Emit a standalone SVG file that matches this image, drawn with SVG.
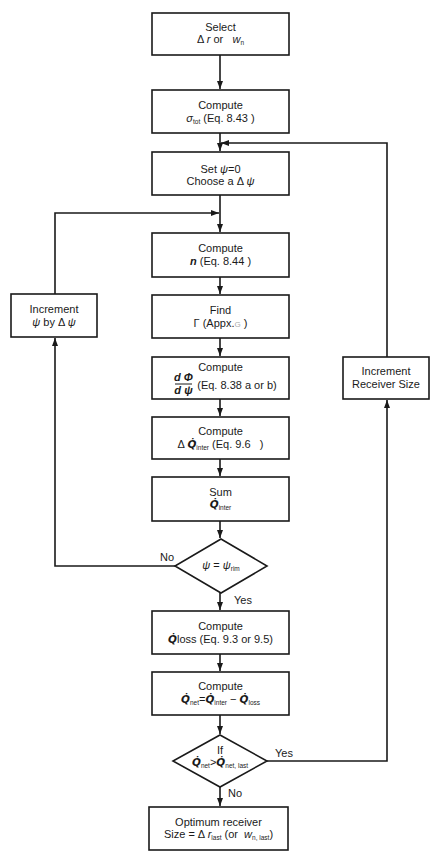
<svg xmlns="http://www.w3.org/2000/svg" width="439" height="863" viewBox="0 0 439 863">
<style>
.b{fill:#fff;stroke:#1a1a1a;stroke-width:1.6}
.t{font-family:"Liberation Sans",Arial,sans-serif;font-size:11px;fill:#1a1a1a;text-anchor:middle}
.s{font-size:6.5px}
.i{font-style:italic}
.q{font-family:"DejaVu Sans",sans-serif;font-style:italic;font-weight:bold;font-size:10.5px}
.c{fill:none;stroke:#1a1a1a;stroke-width:1.6}
</style>
<defs>
<marker id="ar" markerUnits="userSpaceOnUse" markerWidth="8" markerHeight="6" refX="8" refY="3" orient="auto">
<path d="M0,0 L8,3 L0,6 z" fill="#1a1a1a"/>
</marker>
</defs>
<rect width="439" height="863" fill="#fff"/>
<g id="connectors">
<path class="c" d="M220,55 V89" marker-end="url(#ar)"/>
<path class="c" d="M220,133 V151" marker-end="url(#ar)"/>
<path class="c" d="M220,195 V232" marker-end="url(#ar)"/>
<path class="c" d="M220,277 V294" marker-end="url(#ar)"/>
<path class="c" d="M220,338 V356" marker-end="url(#ar)"/>
<path class="c" d="M220,399 V416" marker-end="url(#ar)"/>
<path class="c" d="M220,459 V476" marker-end="url(#ar)"/>
<path class="c" d="M220,521 V538" marker-end="url(#ar)"/>
<path class="c" d="M220,593 V610" marker-end="url(#ar)"/>
<path class="c" d="M220,654 V671" marker-end="url(#ar)"/>
<path class="c" d="M220,715 V734" marker-end="url(#ar)"/>
<path class="c" d="M220,787 V806" marker-end="url(#ar)"/>
<path class="c" d="M175,566 H55 V338" marker-end="url(#ar)"/>
<path class="c" d="M55,294 V213 H219" marker-end="url(#ar)"/>
<path class="c" d="M267,761 H387 V400" marker-end="url(#ar)"/>
<path class="c" d="M387,357 V143 H221" marker-end="url(#ar)"/>
<text class="t" x="167" y="561">No</text>
<text class="t" x="243" y="604">Yes</text>
<text class="t" x="284" y="757">Yes</text>
<text class="t" x="235" y="797">No</text>
</g>
<g id="select">
<rect class="b" x="152" y="13" width="137" height="42"/>
<text class="t" x="220.5" y="31">Select</text>
<text class="t" x="220.5" y="43">Δ <tspan class="i">r</tspan> or&#160;&#160;&#160;<tspan class="i">w</tspan><tspan class="s" dy="2">n</tspan></text>
</g>
<g id="sigma">
<rect class="b" x="152" y="90" width="137" height="43"/>
<text class="t" x="220.5" y="109">Compute</text>
<text class="t" x="220.5" y="122"><tspan class="i">σ</tspan><tspan class="s" dy="2">tot</tspan><tspan dy="-2"> (Eq. 8.43 )</tspan></text>
</g>
<g id="setpsi">
<rect class="b" x="152" y="152" width="137" height="43"/>
<text class="t" x="220.5" y="173">Set <tspan class="i">ψ</tspan>=0</text>
<text class="t" x="220.5" y="185">Choose a Δ <tspan class="i">ψ</tspan></text>
</g>
<g id="n">
<rect class="b" x="152" y="233" width="137" height="44"/>
<text class="t" x="220.5" y="252">Compute</text>
<text class="t" x="220.5" y="265"><tspan class="i" font-weight="bold">n</tspan> (Eq. 8.44 )</text>
</g>
<g id="gamma">
<rect class="b" x="152" y="295" width="137" height="43"/>
<text class="t" x="220.5" y="314">Find</text>
<text class="t" x="220.5" y="327">Γ (Appx.<tspan fill="#aaa" font-size="8">G</tspan> )</text>
</g>
<g id="dphi">
<rect class="b" x="152" y="357" width="137" height="42"/>
<text class="t" x="220.5" y="371">Compute</text>
<text class="t i" x="183.5" y="381" font-weight="bold">d Φ</text>
<line x1="175" y1="384" x2="192" y2="384" stroke="#1a1a1a" stroke-width="1"/>
<text class="t i" x="183.5" y="394" font-weight="bold">d ψ</text>
<text class="t" x="237" y="389">(Eq. 8.38 a or b)</text>
</g>
<g id="dq">
<rect class="b" x="152" y="417" width="137" height="42"/>
<text class="t" x="220.5" y="435">Compute</text>
<text class="t" x="220.5" y="448">Δ <tspan class="q">Q̇</tspan><tspan class="s" dy="2">inter</tspan><tspan dy="-2"> (Eq. 9.6&#160;&#160;&#160;)</tspan></text>
</g>
<g id="sum">
<rect class="b" x="152" y="477" width="137" height="44"/>
<text class="t" x="220.5" y="496">Sum</text>
<text class="t" x="220.5" y="508"><tspan class="q">Q̇</tspan><tspan class="s" dy="2">inter</tspan></text>
</g>
<g id="rim">
<path class="b" d="M221,539 L267,566 L221,593 L175,566 Z"/>
<text class="t" x="221" y="569"><tspan class="i">ψ</tspan> = <tspan class="i">ψ</tspan><tspan class="s" dy="2">rim</tspan></text>
</g>
<g id="qloss">
<rect class="b" x="152" y="611" width="137" height="43"/>
<text class="t" x="220.5" y="630">Compute</text>
<text class="t" x="220.5" y="643"><tspan class="q">Q̇</tspan>loss (Eq. 9.3 or 9.5)</text>
</g>
<g id="qnet">
<rect class="b" x="152" y="672" width="137" height="43"/>
<text class="t" x="220.5" y="690">Compute</text>
<text class="t" x="220.5" y="703"><tspan class="q">Q̇</tspan><tspan class="s" dy="2">net</tspan><tspan dy="-2">=</tspan><tspan class="q">Q̇</tspan><tspan class="s" dy="2">inter</tspan><tspan dy="-2"> − </tspan><tspan class="q">Q̇</tspan><tspan class="s" dy="2">loss</tspan></text>
</g>
<g id="ifnet">
<path class="b" d="M220,735 L267,761 L220,787 L173,761 Z"/>
<text class="t" x="220" y="754">If</text>
<text class="t" x="220" y="766"><tspan class="q">Q̇</tspan><tspan class="s" dy="2">net</tspan><tspan dy="-2">&gt;</tspan><tspan class="q">Q̇</tspan><tspan class="s" dy="2">net, last</tspan></text>
</g>
<g id="optimum">
<rect class="b" x="149" y="807" width="139" height="43"/>
<text class="t" x="218.5" y="826">Optimum receiver</text>
<text class="t" x="218.5" y="838">Size = Δ <tspan class="i">r</tspan><tspan class="s" dy="2">last</tspan><tspan dy="-2"> (or&#160;&#160;</tspan><tspan class="i">w</tspan><tspan class="s" dy="2">n, last</tspan><tspan dy="-2">)</tspan></text>
</g>
<g id="incpsi">
<rect class="b" x="11" y="294" width="86" height="43"/>
<text class="t" x="54" y="313">Increment</text>
<text class="t" x="54" y="326"><tspan class="i">ψ</tspan> by Δ <tspan class="i">ψ</tspan></text>
</g>
<g id="incsize">
<rect class="b" x="343" y="357" width="86" height="42"/>
<text class="t" x="386" y="375">Increment</text>
<text class="t" x="386" y="388">Receiver Size</text>
</g>
</svg>
